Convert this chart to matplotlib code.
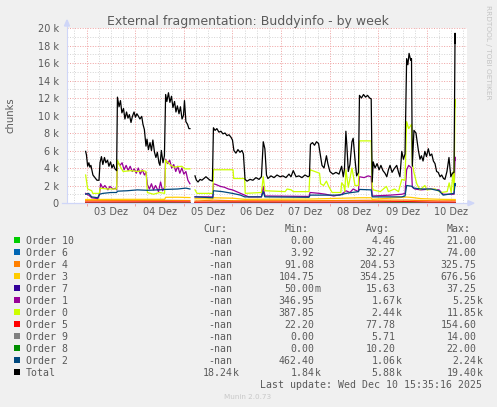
import numpy as np
import matplotlib
matplotlib.use('Agg')
import matplotlib.pyplot as plt
from matplotlib.patches import Rectangle, Polygon
from matplotlib.lines import Line2D

W, H = 497, 407
nan = float('nan')

# time in hours after 03 Dez 00:00, values in thousands of chunks
total = [(-0.5, 5.9), (-0.1, 5.5), (0.5, 4.2), (1.1, 4.6), (1.6, 4.1), (2.1, 4.3), (3.1, 3.2), (4.1, 2.9),
         (5.1, 2.6), (6.1, 2.6), (6.6, 4.6), (7.3, 5.3), (8.0, 4.4), (8.8, 5.2), (9.5, 4.6), (10.3, 4.9),
         (11.0, 4.2), (11.8, 4.7), (12.5, 4.0), (13.2, 4.4), (14.0, 3.9), (14.8, 3.7),
         (15.2, 12.1), (16.0, 11.0), (16.7, 11.7), (17.4, 10.3), (18.2, 10.8), (18.9, 9.6), (19.7, 10.4),
         (20.4, 9.7), (21.1, 10.1), (21.9, 9.2), (22.6, 9.9), (23.4, 10.4), (24.1, 9.8), (24.8, 10.2),
         (25.6, 9.9), (26.3, 9.6), (27.2, 9.9), (27.8, 9.0), (28.5, 8.4), (29.3, 6.5), (29.8, 7.3),
         (30.5, 6.1), (31.3, 6.9), (32.0, 6.0), (32.7, 7.2), (33.5, 5.8), (34.2, 5.2), (34.9, 5.8),
         (35.7, 4.6), (36.2, 4.3), (36.9, 6.0), (37.7, 4.6), (38.4, 5.4),
         (39.0, 12.4), (39.6, 11.6), (40.4, 12.6), (41.1, 11.5), (41.9, 12.2), (42.6, 10.9), (43.4, 11.6),
         (44.1, 10.4), (44.8, 11.1), (45.6, 10.2), (46.3, 11.0), (47.1, 9.6), (47.8, 10.0), (48.3, 11.7),
         (49.0, 9.3), (49.8, 9.0), (50.5, 8.5), (51.0, 8.5), (52.0, nan),
         (53.5, 3.1), (54.2, 2.6), (55.0, 2.4), (56.0, 2.7), (56.9, 2.6), (57.9, 2.8), (58.9, 3.0),
         (59.9, 2.8), (60.9, 2.6), (62.1, 2.5),
         (62.6, 8.6), (63.4, 8.3), (64.3, 8.5), (65.3, 8.1), (66.3, 8.2), (67.3, 7.9), (68.3, 8.0),
         (69.3, 7.7), (70.3, 7.8), (71.3, 7.5), (72.0, 7.2), (72.7, 6.0), (73.7, 5.7), (74.7, 6.1),
         (75.7, 5.8), (76.7, 6.0), (77.4, 5.6),
         (78.2, 2.7), (79.2, 2.5), (80.7, 2.7), (82.1, 2.6), (83.6, 2.9), (85.1, 2.7), (86.3, 3.0),
         (87.2, 7.0), (88.0, 6.2), (88.8, 3.2), (89.5, 2.8), (91.0, 3.1), (92.5, 2.9), (94.0, 3.2),
         (95.5, 3.0), (96.9, 3.1), (98.4, 2.9), (99.9, 3.3), (100.9, 3.0), (102.0, 3.7), (103.4, 3.0),
         (104.8, 3.1), (106.3, 2.9), (107.8, 3.2), (109.3, 3.0), (110.0, 3.1),
         (110.5, 6.7), (111.5, 6.9), (112.5, 6.6), (113.5, 7.0), (114.5, 6.8), (115.2, 5.8), (116.2, 4.3),
         (117.2, 4.0), (118.4, 5.4), (119.1, 4.5), (120.1, 3.6), (121.6, 3.3), (123.1, 3.5), (124.6, 3.3),
         (125.9, 4.2), (126.7, 3.0), (127.3, 3.9), (128.0, 8.2), (128.5, 6.5), (129.2, 3.6), (130.0, 4.4),
         (131.0, 7.0), (131.6, 7.4), (132.5, 5.0), (133.3, 3.1), (134.2, 3.5),
         (134.7, 12.3), (135.7, 12.0), (136.7, 12.4), (137.7, 12.1), (138.7, 12.3), (139.7, 12.0),
         (140.5, 11.9), (141.0, 2.4), (141.5, 4.7), (142.4, 4.0), (143.4, 4.5), (144.4, 3.8), (145.3, 4.3),
         (146.3, 3.7), (147.3, 3.4), (148.2, 3.0), (149.0, 3.8), (149.8, 4.3), (150.8, 3.5), (151.8, 3.9),
         (153.1, 4.3), (154.0, 3.5), (154.7, 3.0), (155.6, 5.9), (156.4, 5.0), (157.2, 5.6),
         (158.0, 16.5), (158.6, 15.8), (159.2, 17.1), (160.0, 16.3), (160.4, 16.5), (160.8, 4.2),
         (161.6, 8.3), (162.6, 8.0), (163.8, 6.0), (164.6, 5.0), (165.3, 5.4), (166.1, 4.8), (167.0, 5.9),
         (167.8, 5.3), (168.7, 6.2), (169.5, 5.4), (170.4, 5.6), (171.2, 4.8), (172.0, 4.5), (172.8, 3.6),
         (173.6, 3.5), (174.5, 3.0), (175.3, 3.2), (176.2, 2.8), (176.9, 2.7), (177.9, 3.6), (178.9, 5.2),
         (179.8, 3.0), (180.6, 3.4), (181.4, 3.5), (181.9, 19.4), (182.0, 18.24)]

order0 = [(-0.5, 3.2), (0.5, 1.6), (2.5, 1.4), (3.0, 1.1), (6.3, 1.1), (6.6, 1.7), (10, 1.6), (14.8, 1.6),
          (15.2, 4.9), (16.5, 4.2), (18, 3.6), (22, 3.7), (25, 3.6), (28, 3.7), (29.3, 3.6), (30.0, 1.2),
          (33, 1.0), (36, 1.2), (38.5, 1.1), (39.0, 4.9), (41, 4.4), (43, 4.1), (47, 4.2), (48.5, 3.9),
          (51.0, 3.9), (52.0, nan), (53.5, 1.5), (54.5, 1.1), (62.3, 1.1), (62.6, 3.8), (72.3, 3.8),
          (72.6, 2.8), (78.0, 2.8), (78.3, 1.1), (86.3, 1.2), (87.2, 3.0), (88.0, 1.4), (98, 1.3),
          (99, 1.6), (101, 1.5), (102, 1.3), (109.8, 1.3), (110.3, 3.8), (115.0, 3.4), (115.5, 2.2),
          (117, 2.0), (118.4, 2.5), (119.5, 1.9), (121.2, 1.2), (125.5, 1.2), (125.9, 2.3), (127, 2.0),
          (127.5, 1.3), (128.0, 3.8), (129.2, 1.8), (131.0, 4.0), (132.5, 2.0), (134.2, 2.0), (134.7, 7.1),
          (140.5, 7.1), (141.0, 1.8), (141.5, 1.5), (145, 1.3), (148, 1.9), (149, 1.3), (152, 1.6),
          (154, 1.3), (155.6, 2.7), (157.2, 2.6), (158.0, 9.3), (159, 8.5), (160.4, 9.0), (160.8, 4.5),
          (161.6, 3.5), (163, 2.2), (164.6, 1.5), (167, 2.0), (168, 1.5), (172, 1.6), (175, 1.2),
          (178, 1.3), (179, 2.3), (180, 1.2), (181.0, 3.6), (181.4, 1.4), (181.9, 11.85), (182.0, 11.0)]

order1 = [(-0.5, 1.1), (1, 0.9), (2.5, 0.6), (5.5, 0.5), (6.3, 0.9), (6.9, 2.2), (8, 1.7), (9, 2.0),
          (10.5, 1.5), (11.5, 1.9), (13, 1.6), (14.5, 1.7), (14.8, 1.5), (15.2, 4.7), (16.5, 4.3),
          (17.5, 4.6), (18.5, 3.8), (19.5, 4.3), (20.5, 3.7), (21.5, 4.2), (22.5, 3.6), (23.5, 3.9),
          (24.5, 3.4), (25.5, 4.0), (26.5, 3.3), (27.5, 3.8), (28.5, 3.2), (29.3, 3.5), (30.0, 2.1),
          (31, 1.6), (32, 2.2), (33, 1.5), (34, 2.0), (35.5, 1.3), (36.5, 2.4), (37.5, 1.4), (38.5, 1.8),
          (39.0, 5.0), (40, 4.5), (41, 4.9), (42, 4.0), (43, 4.4), (44, 3.6), (45, 4.2), (46, 3.4),
          (47, 4.0), (48, 3.3), (49, 3.6), (50, 2.6), (51.0, 2.2), (52.0, nan), (53.5, 0.7), (62.3, 0.7),
          (62.6, 2.2), (64, 2.1), (66, 1.9), (68, 1.8), (70, 1.6), (72, 1.5), (74, 1.3), (76, 1.1),
          (78, 0.9), (80, 0.7), (86.3, 0.7), (87.2, 1.9), (88.0, 0.8), (109.8, 0.75), (110.3, 1.2),
          (115, 1.1), (118, 1.0), (122, 0.8), (126, 1.0), (128, 1.4), (130, 1.2), (131.6, 1.6),
          (134.2, 1.3), (134.7, 3.0), (137, 2.9), (139, 3.1), (140.5, 3.0), (141.0, 0.8), (150, 0.9),
          (155.6, 1.0), (157.2, 1.1), (158.0, 3.8), (159, 4.3), (160.4, 4.0), (160.8, 1.8), (162, 1.6),
          (165, 1.5), (170, 1.6), (174, 1.5), (176, 1.0), (181.4, 1.0), (181.9, 5.25), (182.0, 4.9)]

order2 = [(-0.5, 1.0), (1, 1.1), (2.5, 0.7), (5.5, 0.6), (6.3, 1.0), (8, 1.1), (12, 1.2), (14.8, 1.2),
          (15.2, 1.35), (20, 1.4), (25, 1.5), (30, 1.45), (35, 1.5), (39, 1.55), (45, 1.6), (49, 1.7),
          (51.0, 1.6), (52.0, nan), (53.5, 0.7), (62.3, 0.6), (62.6, 1.4), (67, 1.3), (72, 1.1), (76, 0.9),
          (78, 0.7), (86.3, 0.7), (87.2, 1.3), (88.0, 0.7), (109.8, 0.65), (110.3, 0.9), (125, 0.9),
          (128, 1.1), (131, 1.2), (134.2, 1.3), (134.7, 1.55), (140.5, 1.5), (141.0, 0.7), (155.6, 0.7),
          (157.2, 0.8), (158.0, 2.0), (160.8, 1.9), (161.6, 1.7), (165, 1.6), (170, 1.6), (174, 1.4),
          (176, 0.9), (181.4, 1.1), (181.9, 2.24), (182.0, 2.0)]

order3 = [(-0.5, 0.4), (20, 0.42), (38.5, 0.42), (39.0, 0.65), (45, 0.66), (51.0, 0.62), (52.0, nan),
          (53.5, 0.48), (62.3, 0.48), (62.6, 0.6), (72, 0.55), (78, 0.42), (110, 0.45), (134.7, 0.6),
          (140.5, 0.6), (141.0, 0.42), (158, 0.68), (161, 0.62), (165, 0.5), (175, 0.42), (182.0, 0.4)]
order4 = [(-0.5, 0.26), (15, 0.27), (39, 0.3), (51.0, 0.28), (52.0, nan), (53.5, 0.22), (62.6, 0.32),
          (72, 0.26), (110, 0.26), (135, 0.3), (158, 0.33), (162, 0.3), (175, 0.24), (182.0, 0.26)]
order5 = [(-0.5, 0.1), (15, 0.11), (39, 0.13), (51.0, 0.12), (52.0, nan), (53.5, 0.08), (62.6, 0.12),
          (110, 0.1), (135, 0.11), (158, 0.155), (170, 0.1), (182.0, 0.09)]
order6 = [(-0.5, 0.03), (39, 0.05), (51.0, 0.04), (52.0, nan), (53.5, 0.02), (110, 0.03), (158, 0.07),
          (170, 0.04), (182.0, 0.03)]
order7 = [(-0.5, 0.01), (39, 0.02), (51.0, 0.02), (52.0, nan), (53.5, 0.01), (135, 0.02), (158, 0.035),
          (182.0, 0.02)]
order8 = [(-0.5, 0.01), (51.0, 0.012), (52.0, nan), (53.5, 0.008), (158, 0.02), (182.0, 0.022)]
order9 = [(-0.5, 0.005), (51.0, 0.006), (52.0, nan), (53.5, 0.004), (158, 0.01), (182.0, 0.014)]
order10 = [(-0.5, 0.002), (40, 0.006), (51.0, 0.005), (52.0, nan), (53.5, 0.004), (110, 0.003),
           (158, 0.012), (182.0, 0.021)]

labels = ['Order 10', 'Order 6', 'Order 4', 'Order 3', 'Order 7', 'Order 1', 'Order 0',
          'Order 5', 'Order 9', 'Order 8', 'Order 2', 'Total']
series = [order10, order6, order4, order3, order7, order1, order0,
          order5, order9, order8, order2, total]
colors = ['#00CC00', '#0066B3', '#FF8000', '#FFCC00', '#330099', '#990099', '#CCFF00',
          '#FF0000', '#808080', '#008F00', '#00487D', '#000000']
# near-zero series sit under the axis line in the original
draw_z = [1, 1, 3, 3, 1, 4, 4, 5, 1, 1, 6, 7]
cur_vals = ['-nan'] * 11 + ['18.24k']
min_vals = ['0.00', '3.92', '91.08', '104.75', '50.00m', '346.95', '387.85', '22.20',
            '0.00', '0.00', '462.40', '1.84k']
avg_vals = ['4.46', '32.27', '204.53', '354.25', '15.63', '1.67k', '2.44k', '77.78',
            '5.71', '10.20', '1.06k', '5.88k']
max_vals = ['21.00', '74.00', '325.75', '676.56', '37.25', '5.25k', '11.85k', '154.60',
            '14.00', '22.00', '2.24k', '19.40k']
day_labels = ['03 Dez', '04 Dez', '05 Dez', '06 Dez', '07 Dez', '08 Dez', '09 Dez', '10 Dez']

FONT = '#5a5a5a'
MAJ = '#EFA0A0'
MIN = '#D4D4D4'
AXIS = '#CFD6F8'


def fx(px):
    return px / W


def fy(py):
    return 1 - py / H


fig = plt.figure(figsize=(W / 100, H / 100), dpi=100, facecolor='#F0F0F0')
ax = fig.add_axes([fx(67), fy(203), 400 / W, 175 / H])
ax.set_facecolor('white')
for s in ax.spines.values():
    s.set_visible(False)
ax.set_xlim(-9.7, 187.8)
ax.set_ylim(0, 20)

# grid
dots = (0, (1, 1.6))
for k in range(1, 21):
    ax.axhline(k, color=MAJ if k % 2 == 0 else MIN, lw=0.7, ls=dots, zorder=0)
for h in range(-6, 188, 6):
    ax.axvline(h, color=MAJ if h % 24 == 0 else MIN, lw=0.7, ls=dots, zorder=0)

# data lines
for data, c, z in zip(series, colors, draw_z):
    arr = np.array(data, dtype=float)
    ax.plot(arr[:, 0], arr[:, 1], color=c, lw=0.9, zorder=z)

# ticks
ax.set_yticks(range(0, 21, 2), ['0'] + ['%d k' % k for k in range(2, 21, 2)])
ax.tick_params(axis='y', length=0, pad=6, labelsize=7, labelcolor=FONT)
ax.set_xticks(range(0, 169, 24), [''] * 8)
ax.set_xticks(range(12, 181, 24), day_labels, minor=True)
ax.tick_params(axis='x', which='major', length=2.5, width=0.7, color=MAJ)
ax.tick_params(axis='x', which='minor', length=0, pad=3, labelsize=7, labelcolor=FONT)

# axes with arrows
fig.add_artist(Line2D([fx(67), fx(67)], [fy(203), fy(24)], color=AXIS, lw=0.8))
fig.add_artist(Polygon([[fx(64.5), fy(26)], [fx(69.5), fy(26)], [fx(67), fy(20)]], closed=True,
                       color=AXIS, transform=fig.transFigure))
fig.add_artist(Line2D([fx(62), fx(469)], [fy(203.2), fy(203.2)], color=AXIS, lw=0.9))
fig.add_artist(Polygon([[fx(468), fy(200.7)], [fx(468), fy(205.7)], [fx(474), fy(203.2)]], closed=True,
                       color=AXIS, transform=fig.transFigure))

# texts
fig.text(fx(247.8), fy(25), 'External fragmentation: Buddyinfo - by week', ha='center', va='baseline',
         fontsize=9, color=FONT)
fig.text(fx(11), fy(115), 'chunks', rotation=90, ha='center', va='center', fontsize=7.2, color=FONT)
fig.text(fx(488), fy(5), 'RRDTOOL / TOBI OETIKER', rotation=-90, ha='center', va='top',
         fontsize=5.3, color='#C4C4C4')

# legend
mono = 'DejaVu Sans Mono'
LFS = 7.15
heads = [('Cur:', 203.3), ('Min:', 285), ('Avg:', 366), ('Max:', 446.7)]
for txt, x in heads:
    fig.text(fx(x), fy(231.7), txt, ha='left', va='baseline', family=mono, fontsize=LFS, color=FONT)

col_right = [232.7, 314.7, 395.7, 476.5]
for r, lab in enumerate(labels):
    base = 243.7 + 12 * r
    fig.add_artist(Rectangle((fx(14), fy(base - 0.7)), 6 / W, 6 / H, transform=fig.transFigure,
                             facecolor=colors[r], edgecolor='none'))
    fig.text(fx(26), fy(base), lab, ha='left', va='baseline', family=mono, fontsize=LFS, color=FONT)
    for xr, vals in zip(col_right, [cur_vals, min_vals, avg_vals, max_vals]):
        s = vals[r]
        if s[-1] in 'kmM' and s != '-nan':
            num, suf = s[:-1], s[-1]
        else:
            num, suf = s, ''
        fig.text(fx(xr), fy(base), num, ha='right', va='baseline', family=mono, fontsize=LFS, color=FONT)
        if suf:
            fig.text(fx(xr), fy(base), suf, ha='left', va='baseline', family=mono, fontsize=LFS,
                     color=FONT)

fig.text(fx(482.3), fy(387.7), 'Last update: Wed Dec 10 15:35:16 2025', ha='right', va='baseline',
         family=mono, fontsize=LFS, color=FONT)
fig.text(fx(248), fy(399), 'Munin 2.0.73', ha='center', va='baseline', fontsize=5.2, color='#C8C8C8')

fig.savefig('out.png', dpi=100, facecolor=fig.get_facecolor())
